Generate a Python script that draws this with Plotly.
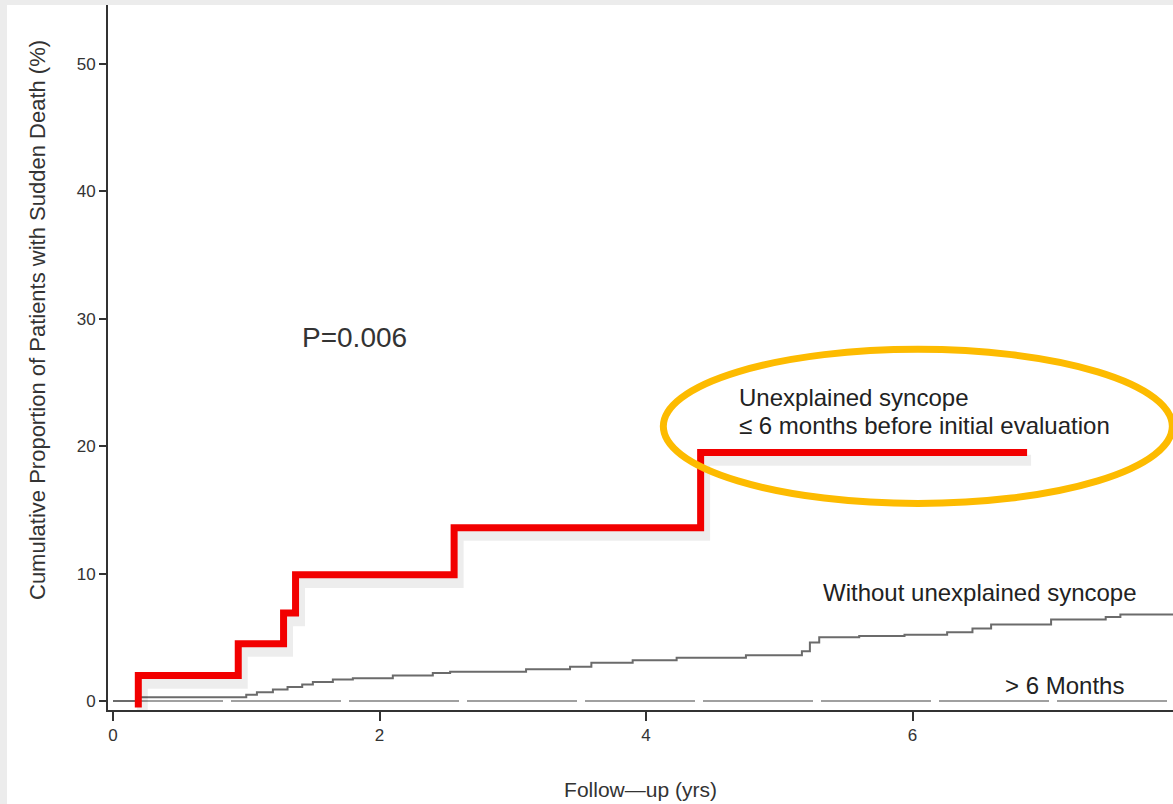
import plotly.graph_objects as go

# Unexplained syncope <= 6 months before initial evaluation (step curve)
red_t = [0.19, 0.19, 0.94, 1.28, 1.37, 2.56, 4.41, 6.86]
red_y = [-0.5, 2.0, 4.5, 6.9, 9.9, 13.6, 19.5, 19.5]

# Without unexplained syncope
gray_t = [0.0, 0.2, 1.0, 1.08, 1.2, 1.31, 1.42, 1.5, 1.65, 1.8, 2.1, 2.4, 2.53, 2.95,
          3.1, 3.43, 3.59, 3.9, 4.23, 4.75, 5.17, 5.23, 5.30, 5.6, 5.94, 6.26, 6.45,
          6.59, 7.04, 7.45, 7.56, 7.96]
gray_y = [0.0, 0.3, 0.5, 0.7, 0.9, 1.1, 1.3, 1.5, 1.7, 1.8, 2.0, 2.2, 2.3, 2.3,
          2.5, 2.7, 3.0, 3.2, 3.4, 3.6, 3.9, 4.6, 5.0, 5.1, 5.2, 5.4, 5.7,
          6.0, 6.4, 6.6, 6.8, 6.8]

# > 6 Months
late_t = [0.0, 7.96]
late_y = [0.0, 0.0]

x_ticks = [0, 2, 4, 6, 8]
y_ticks = [0, 10, 20, 30, 40, 50]

FONT = "Liberation Sans, Arial, sans-serif"
TXT = "#333333"
DARK = "#222222"

fig = go.Figure()

fig.add_trace(go.Scatter(x=late_t, y=late_y, mode="lines",
                         line=dict(color="#a0a0a0", width=2, dash="110px,8px"),
                         hoverinfo="skip", showlegend=False))
fig.add_trace(go.Scatter(x=gray_t, y=gray_y, mode="lines", line_shape="hv",
                         line=dict(color="#6b6b6b", width=2),
                         showlegend=False))
# soft drop shadow under the red curve
fig.add_trace(go.Scatter(x=[t + 0.03 for t in red_t], y=[v - 0.6 for v in red_y],
                         mode="lines", line_shape="hv",
                         line=dict(color="rgba(0,0,0,0.07)", width=11),
                         hoverinfo="skip", showlegend=False))
fig.add_trace(go.Scatter(x=red_t, y=red_y, mode="lines", line_shape="hv",
                         line=dict(color="#f20000", width=7),
                         showlegend=False))

fig.add_annotation(x=1.81, y=28.5, text="P=0.006", showarrow=False,
                   font=dict(family=FONT, size=28, color=TXT))
fig.add_annotation(x=4.68, y=23.8, xanchor="left", yanchor="middle",
                   text="Unexplained syncope", showarrow=False,
                   font=dict(family=FONT, size=24, color=DARK))
fig.add_annotation(x=4.68, y=21.6, xanchor="left", yanchor="middle",
                   text="≤ 6 months before initial evaluation", showarrow=False,
                   font=dict(family=FONT, size=24, color=DARK))
fig.add_annotation(x=5.31, y=8.5, xanchor="left", yanchor="middle",
                   text="Without unexplained syncope", showarrow=False,
                   font=dict(family=FONT, size=24, color=DARK))
fig.add_annotation(x=6.68, y=1.25, xanchor="left", yanchor="middle",
                   text="> 6 Months", showarrow=False,
                   font=dict(family=FONT, size=24, color=DARK))

# y-axis title (placed as in the original, slightly above the axis centre)
fig.add_annotation(xref="paper", yref="paper", x=-71/1065, y=(710 - 320) / 705,
                   xanchor="center", yanchor="middle", textangle=-90, showarrow=False,
                   text="Cumulative Proportion of Patients with Sudden Death (%)",
                   font=dict(family=FONT, size=22, color=TXT))

# highlight ellipse
fig.add_shape(type="circle", xref="x", yref="y", x0=4.13, x1=7.95, y0=15.5, y1=27.6,
              line=dict(color="#fdbb00", width=7))

# light frame strips of the original screenshot
fig.add_shape(type="rect", xref="paper", yref="paper", x0=-108/1065, x1=1.0,
              y0=1.0, y1=1 + 5/705, fillcolor="#ececec", line_width=0, layer="below")
fig.add_shape(type="rect", xref="paper", yref="paper", x0=-108/1065, x1=-101/1065,
              y0=-94/705, y1=1 + 5/705, fillcolor="#ececec", line_width=0, layer="below")

fig.update_xaxes(range=[-0.0375, 7.955], tickvals=x_ticks, ticks="outside", ticklen=9,
                 tickwidth=1.5, tickcolor="#333", showline=True, linecolor="#333",
                 linewidth=2, showgrid=False, zeroline=False,
                 tickfont=dict(family=FONT, size=17, color=TXT),
                 title=dict(text="Follow\u2014up (yrs)", standoff=38,
                            font=dict(family=FONT, size=21, color=TXT)))
fig.update_yaxes(range=[-0.7, 54.6], tickvals=y_ticks, ticks="outside", ticklen=7,
                 tickwidth=1.5, tickcolor="#333", showline=True, linecolor="#333",
                 linewidth=2, showgrid=False, zeroline=False,
                 tickfont=dict(family=FONT, size=17, color=TXT))

fig.update_layout(width=1173, height=804, margin=dict(l=108, r=0, t=5, b=94),
                  paper_bgcolor="white", plot_bgcolor="white")

fig.write_html("out.html", config={"displayModeBar": False},
               post_script="document.body.style.margin='0px';document.body.style.padding='0px';")
